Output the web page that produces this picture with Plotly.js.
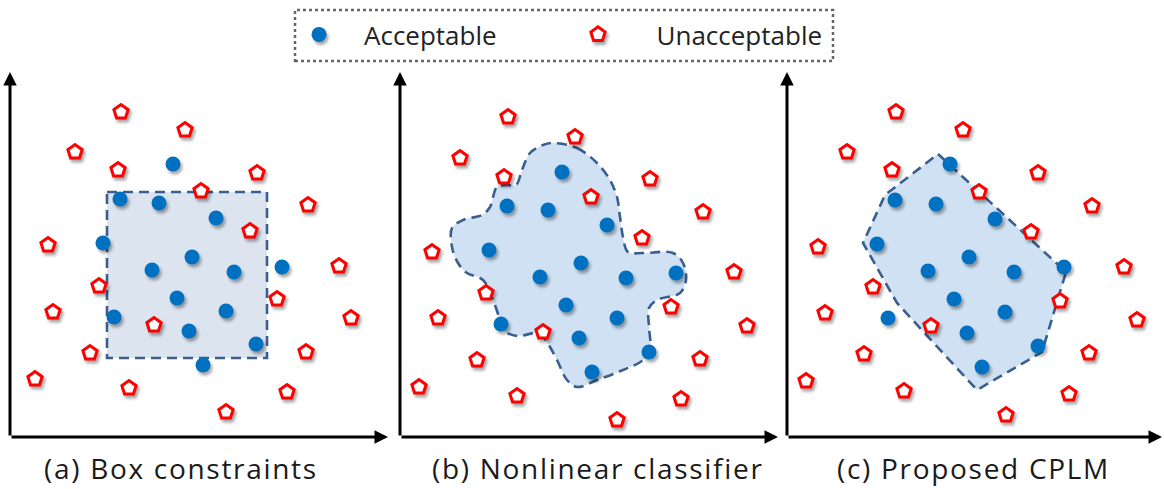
<!DOCTYPE html>
<html>
<head>
<meta charset="utf-8">
<script src="https://cdn.plot.ly/plotly-3.0.1.min.js"></script>
<style>
  html, body { margin: 0; padding: 0; background: #fff; }
  #chart { width: 1164px; height: 489px; }
  /* soft drop shadows under the sample markers */
  .scatterlayer .trace .points path,
  .legend .legendpoints path {
    filter: drop-shadow(2px 3px 1.5px rgba(0, 0, 0, 0.35));
  }
  /* wide-set caption lettering */
  .annotation-text { letter-spacing: 1.7px; }
</style>
</head>
<body>
<div id="chart"></div>
<script>
// ---- (a) Box constraints ----
const accA_x = [163, 110, 149, 206, 93, 182, 142, 224, 272, 167, 216, 104, 179, 246, 193];
const accA_y = [273, 238, 234, 219, 194, 180, 167, 165, 170, 139, 126, 120, 106, 93, 72];
const unaA_x = [111, 175, 65, 108, 247, 191, 298, 240, 38, 329, 89, 267, 43, 341, 144, 80, 296, 25, 119, 277, 216];
const unaA_y = [325, 307, 285, 267, 264, 246, 232, 206, 192, 171, 151, 138, 125, 119, 112, 84, 85, 58, 49, 45, 25];
// box bounds [xmin, xmax] x [ymin, ymax]
const boxA_x = [97, 257];
const boxA_y = [79, 245];

// ---- (b) Nonlinear classifier ----
const accB_x = [162, 107, 148, 207, 89, 181, 140, 226, 276, 166, 217, 101, 179, 249, 192];
const accB_y = [265, 231, 227, 212, 187, 174, 160, 159, 164, 132, 119, 113, 99, 85, 65];
const unaB_x = [108, 175, 60, 104, 250, 191, 303, 242, 32, 334, 86, 271, 38, 347, 143, 77, 300, 19, 117, 281, 217];
const unaB_y = [320, 300, 279, 260, 258, 240, 225, 199, 185, 165, 144, 130, 119, 111, 105, 77, 78, 50, 41, 38, 17];
const curveB_x = [153, 177, 197, 210, 217, 220, 223, 228, 243, 273, 283, 286, 280, 257, 249, 249, 250, 243, 223, 197,
                  177, 167, 157, 150, 143, 137, 117, 103, 100, 93, 83, 67, 58, 52, 52, 63, 82, 90, 97, 107,
                  116, 122, 130, 143, 153];
const curveB_y = [294, 289, 274, 257, 240, 220, 200, 185, 184, 184, 174, 157, 144, 137, 129, 110, 90, 77, 67, 57,
                  50, 57, 77, 90, 100, 104, 101, 107, 117, 137, 157, 164, 174, 190, 209, 217, 222, 230, 250, 252,
                  252, 267, 284, 292, 294];

// ---- (c) Proposed CPLM ----
const accC_x = [163, 108, 149, 208, 90, 182, 141, 227, 277, 167, 218, 101, 180, 251, 195];
const accC_y = [273, 237, 233, 218, 193, 180, 166, 165, 170, 138, 125, 119, 104, 91, 70];
const unaC_x = [109, 176, 60, 105, 251, 192, 305, 244, 31, 337, 86, 273, 38, 350, 144, 77, 302, 19, 117, 282, 219];
const unaC_y = [325, 307, 285, 267, 264, 245, 231, 205, 190, 170, 150, 136, 124, 117, 111, 83, 84, 56, 46, 43, 22];
const polyC_x = [151, 279, 255, 190, 110, 76, 98, 151];
const polyC_y = [283, 165, 85, 47, 134, 194, 242, 283];

const captions = ['(a) Box constraints', '(b) Nonlinear classifier', '(c) Proposed CPLM'];
// the second legend label sits a little further from its symbol
const classNames = ['Acceptable', '\u00A0\u00A0Unacceptable'];

// ---- styling ----
const W = 1164, H = 489;
const BLUE = '#0070C0', RED = '#FF0000';
const EDGE = '#3A5F8E';
const FONT = '"Open Sans", Lato, sans-serif';

// panel frames in page pixels: left edge of plot area, axis origin
const panels = [
  { left: 0,   ox: 10,  span: 390, fill: 'rgb(220,228,239)' },
  { left: 390, ox: 400, span: 390, fill: 'rgb(207,225,242)' },
  { left: 777, ox: 787, span: 387, fill: 'rgb(207,225,242)' }
];
const yTopPx = 62, yBotPx = 447, originPx = 437;

function regionTrace(xs, ys, p, k) {
  return {
    x: xs, y: ys, type: 'scatter', mode: 'lines',
    fill: 'toself', fillcolor: p.fill,
    line: { color: EDGE, width: 2.6, dash: '10px,6px', shape: k === 1 ? 'spline' : 'linear', smoothing: 1 },
    xaxis: k === 0 ? 'x' : 'x' + (k + 1), yaxis: k === 0 ? 'y' : 'y' + (k + 1),
    hoverinfo: 'skip', showlegend: false
  };
}
function accTrace(xs, ys, k) {
  return {
    x: xs, y: ys, type: 'scatter', mode: 'markers', name: classNames[0],
    marker: { symbol: 'circle', size: 15, color: BLUE, line: { width: 0 } },
    xaxis: k === 0 ? 'x' : 'x' + (k + 1), yaxis: k === 0 ? 'y' : 'y' + (k + 1),
    cliponaxis: false, legendgroup: 'acc', showlegend: k === 0
  };
}
function unaTrace(xs, ys, k) {
  return {
    x: xs, y: ys, type: 'scatter', mode: 'markers', name: classNames[1],
    marker: { symbol: 'pentagon', size: 15, color: '#FFFFFF', line: { width: 3, color: RED } },
    xaxis: k === 0 ? 'x' : 'x' + (k + 1), yaxis: k === 0 ? 'y' : 'y' + (k + 1),
    cliponaxis: false, legendgroup: 'una', showlegend: k === 0
  };
}

const boxPathX = [boxA_x[0], boxA_x[1], boxA_x[1], boxA_x[0], boxA_x[0]];
const boxPathY = [boxA_y[1], boxA_y[1], boxA_y[0], boxA_y[0], boxA_y[1]];

const data = [
  regionTrace(boxPathX, boxPathY, panels[0], 0),
  regionTrace(curveB_x, curveB_y, panels[1], 1),
  regionTrace(polyC_x, polyC_y, panels[2], 2),
  accTrace(accA_x, accA_y, 0), unaTrace(unaA_x, unaA_y, 0),
  accTrace(accB_x, accB_y, 1), unaTrace(unaB_x, unaB_y, 1),
  accTrace(accC_x, accC_y, 2), unaTrace(unaC_x, unaC_y, 2)
];

const layout = {
  width: W, height: H,
  margin: { l: 0, r: 0, t: 0, b: 0 },
  paper_bgcolor: '#FFFFFF', plot_bgcolor: 'rgba(0,0,0,0)',
  showlegend: true,
  legend: {
    orientation: 'h', x: 274 / W, y: 1 - 11 / H, xanchor: 'left', yanchor: 'top',
    font: { family: FONT, size: 26, color: '#222222' },
    bgcolor: 'rgba(0,0,0,0)', borderwidth: 0,
    itemwidth: 80, entrywidth: 184, entrywidthmode: 'pixels'
  },
  annotations: [], shapes: []
};

panels.forEach((p, k) => {
  const xs = k === 0 ? '' : String(k + 1);
  const x0 = p.left - p.ox;               // data value at left of plot area
  const yMin = originPx - yBotPx;         // -10
  const yMax = originPx - yTopPx;         // 375
  const common = { showgrid: false, zeroline: false, showline: false, showticklabels: false, ticks: '', fixedrange: true };
  layout['xaxis' + xs] = Object.assign({}, common, {
    domain: [p.left / W, (p.left + p.span) / W], range: [x0, x0 + p.span], anchor: 'y' + xs
  });
  layout['yaxis' + xs] = Object.assign({}, common, {
    domain: [(H - yBotPx) / H, (H - yTopPx) / H], range: [yMin, yMax], anchor: 'x' + xs
  });
  const xr = 'x' + xs, yr = 'y' + xs;
  const xTip = p.span + x0 - 2;
  // vertical axis arrow
  layout.annotations.push({
    xref: xr, yref: yr, axref: xr, ayref: yr, x: 0, y: 365, ax: 0, ay: 0, text: '',
    showarrow: true, arrowhead: 2, arrowsize: 0.9, arrowwidth: 3, arrowcolor: '#000', standoff: 0, startstandoff: 0
  });
  // horizontal axis arrow
  layout.annotations.push({
    xref: xr, yref: yr, axref: xr, ayref: yr, x: xTip, y: 0, ax: 0, ay: 0, text: '',
    showarrow: true, arrowhead: 2, arrowsize: 0.9, arrowwidth: 3, arrowcolor: '#000', standoff: 0, startstandoff: 0
  });
});

// panel captions
const captionCenters = [181, 598, 973];
captions.forEach((c, k) => {
  layout.annotations.push({
    xref: 'paper', yref: 'paper', x: captionCenters[k] / W, y: 1 - 468 / H,
    xanchor: 'center', yanchor: 'middle', showarrow: false, text: c,
    font: { family: FONT, size: 28, color: '#1A1A1A' }
  });
});

// dotted frame around the legend
layout.shapes.push({
  type: 'rect', xref: 'paper', yref: 'paper',
  x0: 295 / W, x1: 833 / W, y0: 1 - 61 / H, y1: 1 - 10 / H,
  line: { color: '#666666', width: 2.5, dash: 'dot' }, fillcolor: 'rgba(0,0,0,0)'
});

Plotly.newPlot('chart', data, layout, { staticPlot: true, displayModeBar: false });
</script>
</body>
</html>
